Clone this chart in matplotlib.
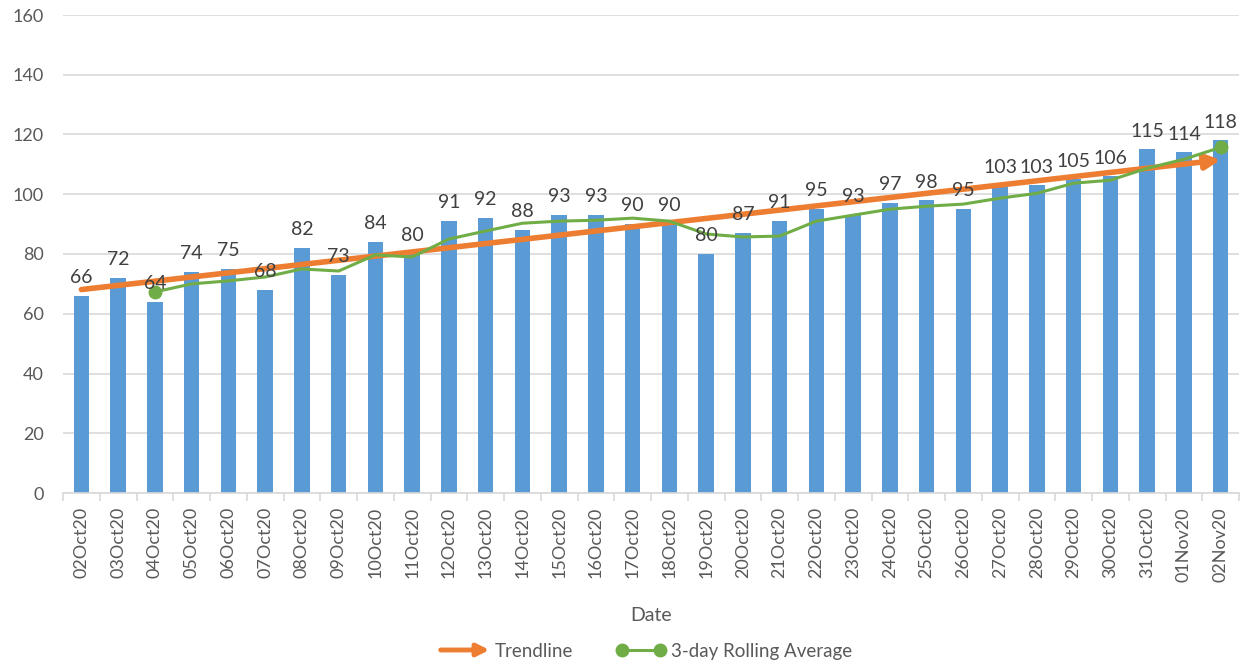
import matplotlib
matplotlib.use("Agg")
import matplotlib.pyplot as plt
import numpy as np
from matplotlib.patches import FancyArrowPatch
from matplotlib.lines import Line2D
from matplotlib.legend_handler import HandlerBase

plt.rcParams['font.family'] = ['Lato', 'DejaVu Sans']

dates = ["02Oct20", "03Oct20", "04Oct20", "05Oct20", "06Oct20", "07Oct20", "08Oct20",
         "09Oct20", "10Oct20", "11Oct20", "12Oct20", "13Oct20", "14Oct20", "15Oct20",
         "16Oct20", "17Oct20", "18Oct20", "19Oct20", "20Oct20", "21Oct20", "22Oct20",
         "23Oct20", "24Oct20", "25Oct20", "26Oct20", "27Oct20", "28Oct20", "29Oct20",
         "30Oct20", "31Oct20", "01Nov20", "02Nov20"]
counts = [66, 72, 64, 74, 75, 68, 82, 73, 84, 80, 91, 92, 88, 93, 93, 90, 90, 80, 87, 91,
          95, 93, 97, 98, 95, 103, 103, 105, 106, 115, 114, 118]
# 3-day rolling average, starting at 04Oct20
rolling_avg = [67.3, 70.0, 71.0, 72.3, 75.0, 74.3, 79.7, 79.0, 85.0, 87.7, 90.3, 91.0,
               91.3, 92.0, 91.0, 86.7, 85.7, 86.0, 91.0, 93.0, 95.0, 96.0, 96.7, 98.7,
               100.3, 103.7, 104.7, 108.7, 111.7, 115.7]
trend_start, trend_end = 68.1, 111.5

BLUE = '#5B9BD5'
ORANGE = '#ED7D31'
GREEN = '#70AD47'
GRID = '#D9D9D9'
TXT = '#595959'
LBL = '#404040'

fig = plt.figure(figsize=(12.43, 6.65), dpi=100)
ax = fig.add_axes([63/1243, 1-493/665, (1239-63)/1243, (493-15)/665])

x = np.arange(len(dates))
ax.bar(x, counts, width=0.42, color=BLUE, zorder=2)

for xi, v in zip(x, counts):
    ax.annotate(str(v), (xi, v), xytext=(0, 7), textcoords='offset points',
                ha='center', va='bottom', fontsize=14, color=LBL, zorder=5)

# trendline with arrow
ax.annotate('', xy=(x[-1], trend_end), xytext=(x[0], trend_start),
            arrowprops=dict(arrowstyle='-|>', lw=4, color=ORANGE, mutation_scale=22,
                            shrinkA=0, shrinkB=0, capstyle='round'), zorder=3)

# rolling average
ax.plot(x[2:], rolling_avg, color=GREEN, lw=2.2, marker='o', markersize=9,
        markevery=[0, len(rolling_avg)-1], zorder=4)

ax.set_xlim(-0.5, len(dates)-0.5)
ax.set_ylim(0, 160)
ax.set_yticks(np.arange(0, 161, 20))
ax.grid(axis='y', color=GRID, lw=1.2, zorder=0)
ax.set_axisbelow(True)
for s in ['top', 'right', 'left']:
    ax.spines[s].set_visible(False)
ax.spines['bottom'].set_color(GRID)
ax.spines['bottom'].set_linewidth(1.2)
ax.tick_params(axis='y', length=0, labelsize=13, labelcolor=TXT, pad=14)
ax.set_xticks(x)
ax.set_xticklabels(dates, rotation=90, fontsize=13, color=TXT)
ax.tick_params(axis='x', which='major', length=0, pad=10)
ax.set_xticks(np.arange(-0.5, len(dates), 1), minor=True)
ax.tick_params(axis='x', which='minor', length=6, color=GRID, width=1.2)
ax.set_xlabel('Date', fontsize=14, color=TXT, labelpad=18)


class HandlerArrow(HandlerBase):
    def create_artists(self, legend, orig_handle, xdescent, ydescent, width, height,
                       fontsize, trans):
        y = height / 2 - ydescent
        a = FancyArrowPatch((-xdescent, y), (-xdescent + width, y), arrowstyle='-|>',
                            mutation_scale=18, lw=3.5, color=ORANGE, shrinkA=0, shrinkB=0,
                            transform=trans)
        return [a]


trend_handle = Line2D([], [], color=ORANGE)
roll_handle = Line2D([], [], color=GREEN, lw=2.2, marker='o', markersize=9)
fig.legend([trend_handle, roll_handle], ['Trendline', '3-day Rolling Average'],
           handler_map={trend_handle: HandlerArrow()}, loc='center',
           bbox_to_anchor=(0.52, 0.021), ncol=2, frameon=False, fontsize=13.5,
           labelcolor=TXT, handlelength=2.6, columnspacing=2.3, handletextpad=0.3,
           numpoints=2)

fig.savefig('out.png', dpi=100)
